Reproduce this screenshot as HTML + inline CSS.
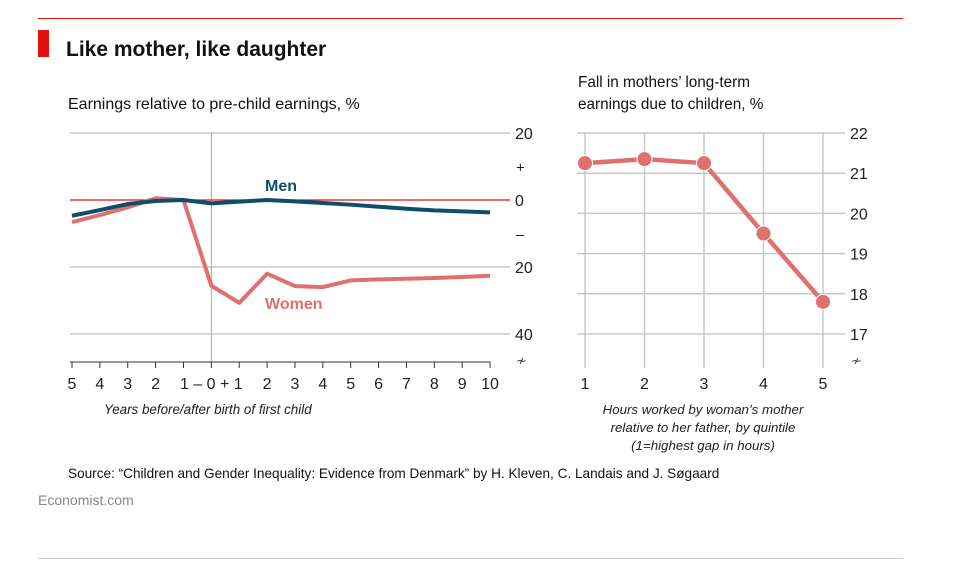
<!DOCTYPE html>
<html><head><meta charset="utf-8"><style>
body{margin:0;background:#fff;font-family:"Liberation Sans",sans-serif;}
svg text{font-family:"Liberation Sans",sans-serif;}
</style></head><body>
<svg width="953" height="565">
<line x1="38" y1="18.5" x2="903" y2="18.5" stroke="#e3120b" stroke-width="1"/>
<rect x="38" y="30" width="11" height="27" fill="#e3120b"/>
<text x="66" y="56" font-size="21" font-weight="bold" fill="#111">Like mother, like daughter</text>
<text x="68" y="109" font-size="16" fill="#111">Earnings relative to pre-child earnings, %</text>
<text x="578" y="87" font-size="15.3" fill="#111">Fall in mothers’ long-term</text>
<text x="578" y="109" font-size="15.3" fill="#111">earnings due to children, %</text>
<g id="left"></g>
<g id="right"></g>
<text x="104" y="414" font-size="13.4" font-style="italic" fill="#222">Years before/after birth of first child</text>
<text x="703" y="414" font-size="13.3" font-style="italic" fill="#222" text-anchor="middle">Hours worked by woman’s mother</text>
<text x="703" y="432" font-size="13.3" font-style="italic" fill="#222" text-anchor="middle">relative to her father, by quintile</text>
<text x="703" y="450" font-size="13.3" font-style="italic" fill="#222" text-anchor="middle">(1=highest gap in hours)</text>
<text x="68" y="478" font-size="13.6" fill="#111">Source: “Children and Gender Inequality: Evidence from Denmark” by H. Kleven, C. Landais and J. Søgaard</text>
<text x="38" y="505" font-size="14" fill="#888">Economist.com</text>
<line x1="38" y1="558.5" x2="903" y2="558.5" stroke="#ccc"/>
</svg>
<script>
const years=[-5,-4,-3,-2,-1,0,1,2,3,4,5,6,7,8,9,10];
const yearLabels=["5","4","3","2","1 – 0 + 1","","","2","3","4","5","6","7","8","9","10"];
const menValues=[-4.7,-3,-1.2,-0.3,0,-1,-0.5,0,-0.4,-0.9,-1.4,-2,-2.6,-3.1,-3.4,-3.7];
const womenValues=[-6.6,-4.5,-2.2,0.5,0,-25.6,-30.7,-22,-25.7,-26,-24,-23.7,-23.5,-23.3,-23,-22.6];
const leftTicks=[20,0,-20,-40];
const leftTickLabels=["20","0","20","40"];
const quintiles=[1,2,3,4,5];
const fallValues=[21.25,21.35,21.25,19.5,17.8];
const rightTicks=[22,21,20,19,18,17];

const NS="http://www.w3.org/2000/svg";
function mk(p,t,a){const e=document.createElementNS(NS,t);for(const k in a)e.setAttribute(k,a[k]);p.appendChild(e);return e;}
const L=document.getElementById('left'),R=document.getElementById('right');
const lx=v=>72+(v+5)*27.87, ly=v=>200-v*3.35;
const rx=v=>585+(v-1)*59.5, ry=v=>133+(22-v)*40.2;

leftTicks.forEach((t,i)=>{
 if(t!==0){const g=mk(L,'line',{x1:70,x2:510,y1:ly(t),y2:ly(t),stroke:'#c8c8c8','stroke-width':1.5});
 
 }
 const tx=mk(L,'text',{x:515,y:ly(t)+6,'font-size':16,fill:'#222'});tx.textContent=leftTickLabels[i];
 
 
});
[["+",10],["–",-10]].forEach(([s,v])=>{const tx=mk(L,'text',{x:516,y:ly(v)+6,'font-size':15,fill:'#222'});tx.textContent=s;
 
 });
let br=mk(L,'text',{x:516,y:365,'font-size':13,fill:'#444'});br.textContent='≁';


let vz=mk(L,'line',{x1:lx(0),x2:lx(0),y1:133,y2:362,stroke:'#aaa','stroke-width':1});


let ax=mk(L,'line',{x1:70,x2:lx(10),y1:362,y2:362,stroke:'#333','stroke-width':1});


years.forEach((y,i)=>{const t=mk(L,'line',{x1:lx(y),x2:lx(y),y1:362,y2:368,stroke:'#333'});
 
 
 if(yearLabels[i]){const tx=mk(L,'text',{x:lx(y),y:389,'font-size':16,fill:'#222','text-anchor':'middle'});tx.textContent=yearLabels[i];
 if(y===-1){tx.setAttribute('x',lx(0));}
 
 }
});
let zl=mk(L,'line',{x1:70,x2:510,y1:ly(0),y2:ly(0),stroke:'#e3120b','stroke-width':1.2});


const pts=a=>a.map((v,i)=>lx(years[i])+','+ly(v)).join(' ');
let wl=mk(L,'polyline',{points:pts(womenValues),fill:'none',stroke:'#e07070','stroke-width':4,'stroke-linejoin':'round'});


let ml=mk(L,'polyline',{points:pts(menValues),fill:'none',stroke:'#0d4f6b','stroke-width':4,'stroke-linejoin':'round'});


let mt=mk(L,'text',{x:265,y:191,'font-size':16,'font-weight':'bold',fill:'#0d4f6b'});mt.textContent='Men';


let wt=mk(L,'text',{x:265,y:309,'font-size':16,'font-weight':'bold',fill:'#e07070'});wt.textContent='Women';



rightTicks.forEach(t=>{
 const g=mk(R,'line',{x1:577,x2:845,y1:ry(t),y2:ry(t),stroke:'#c8c8c8','stroke-width':1.5});
 
 
 const tx=mk(R,'text',{x:850,y:ry(t)+6,'font-size':16,fill:'#222'});tx.textContent=t;
 
 
});
let br2=mk(R,'text',{x:851,y:365,'font-size':13,fill:'#444'});br2.textContent='≁';


quintiles.forEach(q=>{
 const g=mk(R,'line',{x1:rx(q),x2:rx(q),y1:133,y2:368,stroke:'#c8c8c8','stroke-width':1.5});
 
 
 const tx=mk(R,'text',{x:rx(q),y:389,'font-size':16,fill:'#222','text-anchor':'middle'});tx.textContent=q;
 
 
});
let fl=mk(R,'polyline',{points:fallValues.map((v,i)=>rx(quintiles[i])+','+ry(v)).join(' '),fill:'none',stroke:'#e07070','stroke-width':4.5});


fallValues.forEach((v,i)=>{const c=mk(R,'circle',{cx:rx(quintiles[i]),cy:ry(v),r:7.5,fill:'#e07070',stroke:'#fff','stroke-width':1});
 
 });
</script>
</body></html>
